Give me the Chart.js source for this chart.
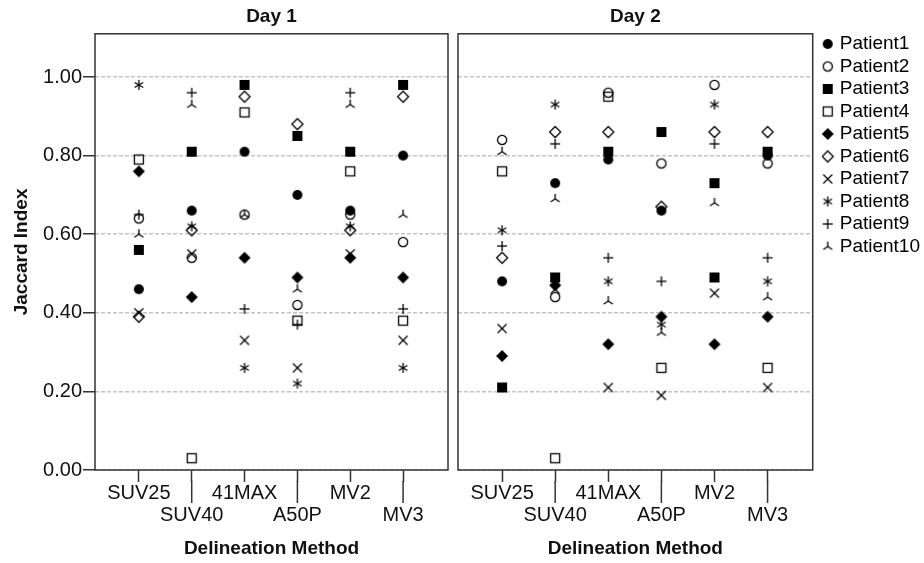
<!DOCTYPE html>
<html>
<head>
<meta charset="utf-8">
<script src="https://cdn.jsdelivr.net/npm/chart.js@4/dist/chart.umd.min.js"></script>
<style>
    body { margin: 0; background: #fff; }
    #wrap { position: relative; width: 924px; height: 563px; overflow: hidden; }
    canvas { position: absolute; top: 0; }
</style>
</head>
<body>
<div id="wrap">
    <canvas id="day1" width="455" height="563" style="left:0"></canvas>
    <canvas id="day2" width="473" height="563" style="left:451px"></canvas>
</div>
<script>
const methods = ['SUV25', 'SUV40', '41MAX', 'A50P', 'MV2', 'MV3'];
const patients = ['Patient1', 'Patient2', 'Patient3', 'Patient4', 'Patient5',
    'Patient6', 'Patient7', 'Patient8', 'Patient9', 'Patient10'];
const yTicks = [0, 0.2, 0.4, 0.6, 0.8, 1.0];

// Day 1, one value per method
const d1P1 = [0.46, 0.66, 0.81, 0.70, 0.66, 0.80];
const d1P2 = [0.64, 0.54, 0.65, 0.42, 0.65, 0.58];
const d1P3 = [0.56, 0.81, 0.98, 0.85, 0.81, 0.98];
const d1P4 = [0.79, 0.03, 0.91, 0.38, 0.76, 0.38];
const d1P5 = [0.76, 0.44, 0.54, 0.49, 0.54, 0.49];
const d1P6 = [0.39, 0.61, 0.95, 0.88, 0.61, 0.95];
const d1P7 = [0.40, 0.55, 0.33, 0.26, 0.55, 0.33];
const d1P8 = [0.98, 0.62, 0.26, 0.22, 0.62, 0.26];
const d1P9 = [0.65, 0.96, 0.41, 0.37, 0.96, 0.41];
const d1P10 = [0.60, 0.93, 0.65, 0.46, 0.93, 0.65];

// Day 2
const d2P1 = [0.48, 0.73, 0.79, 0.66, null, 0.80];
const d2P2 = [0.84, 0.44, 0.96, 0.78, 0.98, 0.78];
const d2P3 = [0.21, 0.49, 0.81, 0.86, 0.73, 0.81];
const d2P3Extra = [null, null, null, null, 0.49, null];
const d2P4 = [0.76, 0.03, 0.95, 0.26, null, 0.26];
const d2P5 = [0.29, 0.47, 0.32, 0.39, 0.32, 0.39];
const d2P6 = [0.54, 0.86, 0.86, 0.67, 0.86, 0.86];
const d2P7 = [0.36, 0.46, 0.21, 0.19, 0.45, 0.21];
const d2P8 = [0.61, 0.93, 0.48, 0.37, 0.93, 0.48];
const d2P9 = [0.57, 0.83, 0.54, 0.48, 0.83, 0.54];
const d2P10 = [0.81, 0.69, 0.43, 0.35, 0.68, 0.44];

const day1 = [d1P1, d1P2, d1P3, d1P4, d1P5, d1P6, d1P7, d1P8, d1P9, d1P10];
const day2 = [d2P1, d2P2, d2P3, d2P4, d2P5, d2P6, d2P7, d2P8, d2P9, d2P10];

const markerKinds = ['dot', 'ring', 'box', 'openBox', 'diamond', 'openDiamond', 'x', 'star', 'plus', 'tri'];

Chart.defaults.font.family = "'Liberation Sans', Arial, sans-serif";
Chart.defaults.color = '#111';

// small canvases used as point styles (same glyph in plot and legend)
function glyph(kind) {
    const c = document.createElement('canvas');
    c.width = 16;
    c.height = 16;
    const g = c.getContext('2d');
    g.translate(8, 8);
    g.strokeStyle = '#000';
    g.fillStyle = '#000';
    g.lineWidth = 1.3;
    const line = (pts) => {
        g.beginPath();
        pts.forEach(([a, b], i) => i ? g.lineTo(a, b) : g.moveTo(a, b));
        g.stroke();
    };
    switch (kind) {
        case 'dot':
            g.beginPath(); g.arc(0, 0, 5, 0, Math.PI * 2); g.fill(); break;
        case 'ring':
            g.beginPath(); g.arc(0, 0, 4.6, 0, Math.PI * 2); g.stroke(); break;
        case 'box':
            g.fillRect(-5, -5, 10, 10); break;
        case 'openBox':
            g.strokeRect(-4.5, -4.5, 9, 9); break;
        case 'diamond':
            g.beginPath(); g.moveTo(0, -6); g.lineTo(6, 0); g.lineTo(0, 6); g.lineTo(-6, 0); g.closePath(); g.fill(); break;
        case 'openDiamond':
            g.beginPath(); g.moveTo(0, -5.5); g.lineTo(5.5, 0); g.lineTo(0, 5.5); g.lineTo(-5.5, 0); g.closePath(); g.stroke(); break;
        case 'x':
            line([[-4.5, -4.5], [4.5, 4.5]]); line([[-4.5, 4.5], [4.5, -4.5]]); break;
        case 'star':
            line([[0, -5], [0, 5]]);
            line([[-4.3, -2.5], [4.3, 2.5]]);
            line([[-4.3, 2.5], [4.3, -2.5]]);
            break;
        case 'plus':
            line([[-5, 0], [5, 0]]); line([[0, -5], [0, 5]]); break;
        case 'tri':
            line([[0, 0], [0, -5]]); line([[0, 0], [-4.5, 3]]); line([[0, 0], [4.5, 3]]); break;
    }
    return c;
}

const glyphs = markerKinds.map(glyph);

function toPoints(values) {
    return values.map((v, i) => ({ x: i, y: v })).filter(p => p.y !== null);
}

function buildDatasets(series, extra) {
    return series.map((values, i) => {
        let pts = toPoints(values);
        if (i === 2 && extra) pts = pts.concat(toPoints(extra));
        return {
            label: patients[i],
            data: pts,
            pointStyle: glyphs[i],
            pointRadius: 6,
            showLine: false
        };
    });
}

// box around the plot area + long tick marks under the second-row labels
const framePlugin = {
    id: 'frame',
    beforeDatasetsDraw(chart) {
        const { ctx, chartArea: a } = chart;
        ctx.save();
        ctx.strokeStyle = '#333';
        ctx.lineWidth = 1.5;
        ctx.strokeRect(a.left, a.top, a.width, a.height);
        ctx.restore();
    },
    afterDraw(chart) {
        const { ctx, chartArea: a } = chart;
        const xs = chart.scales.x;
        ctx.save();
        ctx.strokeStyle = '#333';
        ctx.lineWidth = 1.5;
        methods.forEach((m, i) => {
            if (i % 2 === 0) return;
            const px = xs.getPixelForValue(i);
            ctx.beginPath();
            ctx.moveTo(px, a.bottom + 11);
            ctx.lineTo(px, a.bottom + 33);
            ctx.stroke();
        });
        ctx.restore();
    }
};

function xScale() {
    return {
        type: 'linear',
        min: -0.83,
        max: 5.85,
        afterBuildTicks: s => { s.ticks = methods.map((m, i) => ({ value: i })); },
        afterFit: s => { s.height = 93; },
        border: { display: false },
        grid: { drawOnChartArea: false, tickLength: 12, tickColor: '#333', tickWidth: 1.5 },
        ticks: {
            autoSkip: false,
            maxRotation: 0,
            minRotation: 0,
            padding: 0,
            color: '#111',
            font: { size: 20, lineHeight: 1.1 },
            callback: (v, i) => i % 2 ? ['', methods[i]] : methods[i]
        },
        title: {
            display: true,
            text: 'Delineation Method',
            color: '#111',
            font: { size: 19, weight: 'bold' },
            padding: { top: 0, bottom: 3 }
        }
    };
}

function yScale(left) {
    return {
        type: 'linear',
        position: left ? 'left' : 'right',
        min: 0,
        max: 1.11,
        afterBuildTicks: s => { s.ticks = yTicks.map(v => ({ value: v })); },
        afterFit: s => { s.width = left ? 95 : 9; },
        border: { display: false, dash: [4, 2] },
        grid: {
            color: '#c4c4c4',
            lineWidth: 1.5,
            drawTicks: left,
            tickLength: left ? 12 : 0,
            tickColor: '#333',
            tickWidth: 1.5,
            tickBorderDash: []
        },
        ticks: {
            display: left,
            padding: 1,
            color: '#111',
            font: { size: 20 },
            callback: v => v.toFixed(2)
        },
        title: {
            display: left,
            text: 'Jaccard Index',
            color: '#111',
            font: { size: 19, weight: 'bold' },
            padding: { top: 10, bottom: 0 }
        }
    };
}

function titleOpts(text) {
    return {
        display: true,
        text: text,
        fullSize: false,
        color: '#111',
        font: { size: 19, weight: 'bold' },
        padding: { top: 5, bottom: 6 }
    };
}

new Chart(document.getElementById('day1'), {
    type: 'scatter',
    data: { datasets: buildDatasets(day1) },
    options: {
        responsive: false,
        devicePixelRatio: 1,
        animation: false,
        events: [],
        layout: { padding: { left: 0, right: 5, top: 0, bottom: 0 } },
        scales: { x: xScale(), y: yScale(true) },
        plugins: {
            legend: { display: false },
            tooltip: { enabled: false },
            title: titleOpts('Day 1')
        }
    },
    plugins: [framePlugin]
});

new Chart(document.getElementById('day2'), {
    type: 'scatter',
    data: { datasets: buildDatasets(day2, d2P3Extra) },
    options: {
        responsive: false,
        devicePixelRatio: 1,
        animation: false,
        events: [],
        // legend box carries 10px of slack on its right, let it hang off the canvas
        layout: { padding: { left: 3, right: -6, top: 0, bottom: 0 } },
        scales: { x: xScale(), y: yScale(false) },
        plugins: {
            tooltip: { enabled: false },
            title: titleOpts('Day 2'),
            legend: {
                position: 'right',
                align: 'start',
                fullSize: true,
                title: { display: true, text: '', font: { size: 10 }, padding: { top: 19, bottom: 0 } },
                labels: {
                    usePointStyle: true,
                    boxWidth: 5,
                    padding: 3.5,
                    color: '#000',
                    font: { size: 19 }
                }
            }
        }
    },
    plugins: [framePlugin]
});
</script>
</body>
</html>
